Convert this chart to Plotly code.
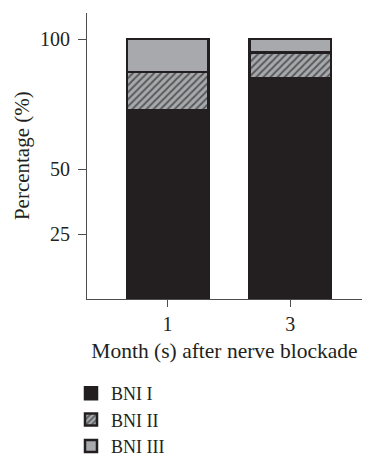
import plotly.graph_objects as go

months = ["1", "3"]
bni_i = [72.7, 84.8]
bni_ii = [14.6, 10.0]
bni_iii = [12.7, 5.2]
y_ticks = [25, 50, 100]

FONT = "Liberation Serif"
TXT = "#231f20"

fig = go.Figure()
fig.add_trace(go.Bar(
    x=months, y=bni_i, name="BNI I",
    marker=dict(color="#231f20", line=dict(color="#231f20", width=2.5)),
))
fig.add_trace(go.Bar(
    x=months, y=bni_ii, name="BNI II",
    marker=dict(color="#a7a9ac", line=dict(color="#231f20", width=2.5),
                pattern=dict(shape="/", bgcolor="#a7a9ac", fgcolor="#58595b",
                             size=5, solidity=0.4, fillmode="replace")),
))
fig.add_trace(go.Bar(
    x=months, y=bni_iii, name="BNI III",
    marker=dict(color="#a7a9ac", line=dict(color="#231f20", width=2.5)),
))

fig.update_layout(
    width=366, height=455,
    barmode="stack", bargap=0.336,
    margin=dict(l=87, r=4, t=13, b=156, autoexpand=False),
    paper_bgcolor="white", plot_bgcolor="white",
    font=dict(family=FONT, size=20, color=TXT),
    showlegend=True,
    legend=dict(
        xref="container", yref="container",
        x=71/366, y=1 - 375/455, xanchor="left", yanchor="top",
        font=dict(family=FONT, size=18, color=TXT),
        bgcolor="rgba(0,0,0,0)", borderwidth=0,
        traceorder="normal",
    ),
    xaxis=dict(
        type="category", range=[-0.657, 1.584],
        showline=True, linecolor="#4d4d4f", linewidth=1.2,
        ticks="outside", ticklen=7, tickcolor="#4d4d4f", tickwidth=1.2,
        showgrid=False, zeroline=False, automargin=True,
        tickfont=dict(family=FONT, size=20, color=TXT),
        title=dict(text="Month (s) after nerve blockade",
                   font=dict(family=FONT, size=21.5, color=TXT), standoff=8),
    ),
    yaxis=dict(
        range=[0, 110],
        tickvals=y_ticks, ticktext=[str(v) + "\u2009" for v in y_ticks],
        showline=True, linecolor="#4d4d4f", linewidth=1.2,
        ticks="outside", ticklen=8, tickcolor="#4d4d4f", tickwidth=1.2,
        showgrid=False, zeroline=False, automargin=False,
        tickfont=dict(family=FONT, size=20, color=TXT),
    ),
    annotations=[dict(
        text="Percentage (%)", textangle=-90,
        xref="paper", yref="paper", x=-0.236, y=0.5,
        xanchor="center", yanchor="middle", showarrow=False,
        font=dict(family=FONT, size=21, color=TXT),
    )],
)

fig.write_html("out.html")
